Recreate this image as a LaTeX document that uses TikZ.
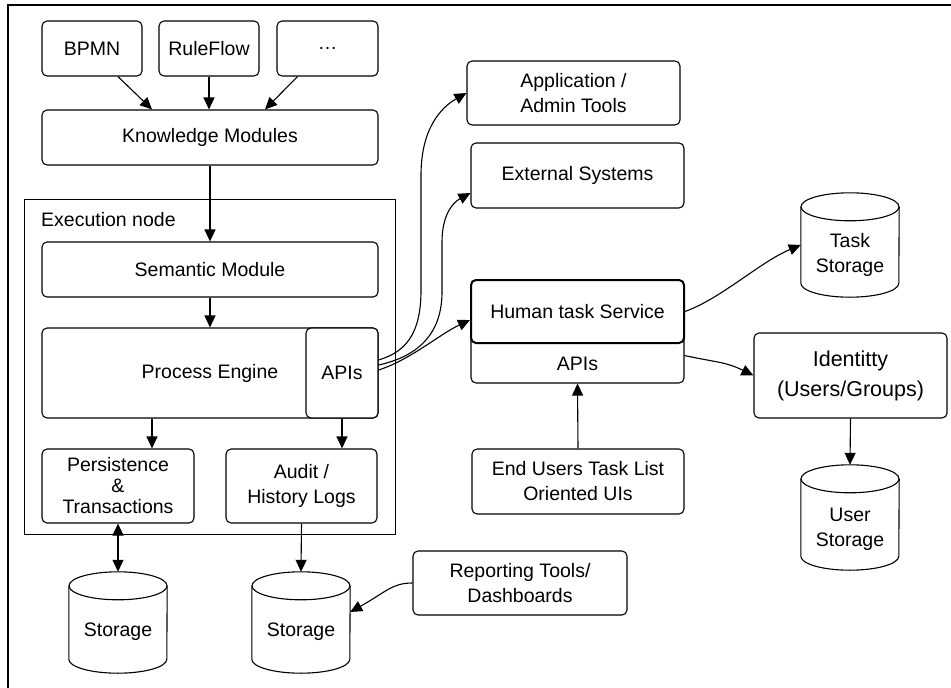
\documentclass[tikz,border=0pt]{standalone}
\usepackage{fontspec}
\newfontfamily\diagfont{Liberation Sans}
\usetikzlibrary{arrows.meta,calc}

% vertical cylinder drawn on the frame of a (borderless) node
\newcommand\drawcyl[1]{%
  \draw[line] ($(#1.north west)+(0,14)$) -- ($(#1.south west)+(0,-14)$)
     arc[start angle=180,end angle=360,x radius=49pt,y radius=14pt]
     -- ($(#1.north east)+(0,14)$);
  \draw[line] ($(#1.north)+(0,14)$) ellipse[x radius=49pt,y radius=14pt];
}

\tikzset{
  line/.style={line width=1.1pt, draw=black},
  arr/.style={line, -{Triangle[length=12pt,width=11pt]}},
  dbl/.style={line, {Triangle[length=12pt,width=11pt]}-{Triangle[length=12pt,width=11pt]}},
  box/.style={line, rounded corners=5pt, align=center, inner sep=0pt,
    font=\diagfont\fontsize{19.5}{25}\selectfont},
  bare/.style={inner sep=0pt, align=center,
    font=\diagfont\fontsize{19.5}{25}\selectfont},
  cylframe/.style={inner sep=0pt, minimum width=98pt},
}

\begin{document}
\begin{tikzpicture}[x=1pt,y=-1pt]
\useasboundingbox (0,0) rectangle (951,688);

% page frame
\draw[line width=1.4pt] (8,688) -- (8,5) -- (951,5);

% execution node container
\node[draw, line width=1pt, minimum width=371pt, minimum height=335pt, inner sep=0pt] (exec) at (209.5,366.5) {};
\node[bare, anchor=west] (execlbl) at (41,220) {Execution node};

% sources
\node[box, draw, minimum width=100pt, minimum height=55pt] (bpmn) at (92,48.5) {BPMN};
\node[box, draw, minimum width=100pt, minimum height=55pt] (rule) at (209,48.5) {RuleFlow};
\node[box, draw, minimum width=101pt, minimum height=55pt] (dots) at (327.5,48.5) {…};
\node[box, draw, minimum width=336pt, minimum height=55pt] (km) at (210,137.5) {Knowledge Modules};

% engine
\node[box, draw, minimum width=336pt, minimum height=55pt] (sem) at (210,269.5) {Semantic Module};
\node[box, draw, minimum width=336pt, minimum height=90pt] (pe) at (210,373) {Process Engine};
\node[box, draw, fill=white, minimum width=72pt, minimum height=90pt] (apis) at (342,373) {APIs};
\node[box, draw, minimum width=152pt, minimum height=74pt] (persist) at (118,486)
  {Persistence\\[-4pt]\&\\[-4pt]Transactions};
\node[box, draw, minimum width=151pt, minimum height=74pt] (audit) at (301.5,486) {Audit /\\History Logs};

% storages
\node[cylframe, minimum height=101pt] (st1) at (118,622.5) {};
\drawcyl{st1}
\node[bare] (st1t) at ([yshift=-9pt]st1.center) {Storage};
\node[cylframe, minimum height=101pt] (st2) at (301,622.5) {};
\drawcyl{st2}
\node[bare] (st2t) at ([yshift=-9pt]st2.center) {Storage};

\node[box, draw, minimum width=214pt, minimum height=64pt] (report) at (520,583) {Reporting Tools/\\Dashboards};

% right-hand side
\node[box, draw, minimum width=213pt, minimum height=64pt] (app) at (573.5,93) {Application /\\Admin Tools};
\node[box, draw, minimum width=213pt, minimum height=65pt] (ext) at (577.5,175.5) {External Systems};

\node[box, draw, minimum width=213pt, minimum height=103pt] (htall) at (577.5,331.5) {};
\node[box, draw, fill=white, line width=2pt, minimum width=213pt, minimum height=63pt] (hts) at (577.5,311.5) {Human task Service};
\node[bare, minimum width=213pt, minimum height=40pt] (htapi) at (577.5,363.5) {APIs};

\node[box, draw, minimum width=212pt, minimum height=65pt] (endui) at (578,481.5) {End Users Task List\\Oriented UIs};

\node[cylframe, minimum height=104pt] (taskst) at (850,245) {};
\drawcyl{taskst}
\node[bare] (taskstt) at ([yshift=-10pt]taskst.center) {Task\\Storage};

\node[box, draw, minimum width=193pt, minimum height=85pt,
  font=\diagfont\fontsize{21.5}{30}\selectfont] (ident) at (850.5,375.5) {Identitty\\(Users/Groups)};

\node[cylframe, minimum height=105pt] (userst) at (850,517.5) {};
\drawcyl{userst}
\node[bare] (userstt) at ([yshift=-12pt]userst.center) {User\\Storage};

% connectors
\draw[arr] ([xshift=26pt]bpmn.south) -- ([xshift=-58pt]km.north);
\draw[arr] (rule.south) -- (rule.south |- km.north);
\draw[arr] ([xshift=-30pt]dots.south) -- ([xshift=55pt]km.north);
\draw[arr] (km.south) -- (sem.north);
\draw[arr] (sem.south) -- (pe.north);
\draw[arr] ([xshift=34pt]persist.north |- pe.south) -- ([xshift=34pt]persist.north);
\draw[arr] (apis.south) -- (apis.south |- audit.north);
\draw[dbl] (persist.south) -- (st1.north);
\draw[arr] (audit.south) -- (st2.north);
\draw[arr] (report.west) .. controls (392,583) and (386,592) .. ([yshift=10.5pt]st2.east);

\draw[arr] ([yshift=13pt]apis.east) .. controls (405,352) and (421,335) .. (421,290)
   -- (421,175) .. controls (421,130) and (440,108) .. (app.west);
\draw[arr] ([yshift=8pt]apis.east) .. controls (420,356) and (442,332) .. (442,292)
   -- (442,242) .. controls (442,216) and (452,203) .. ([yshift=-17.5pt]ext.west);
\draw[arr] ([yshift=3pt]apis.east) .. controls (410,360) and (440,334) .. ([yshift=-8.5pt]hts.west);

\draw[arr] (hts.east) .. controls (722,298) and (760,262) .. (taskst.west);
\draw[arr] ([yshift=8pt]htapi.east) .. controls (720,363) and (726,362) .. (ident.west);
\draw[arr] (endui.north) -- (htall.south);
\draw[arr] (ident.south) -- (userst.north);
\end{tikzpicture}
\end{document}
